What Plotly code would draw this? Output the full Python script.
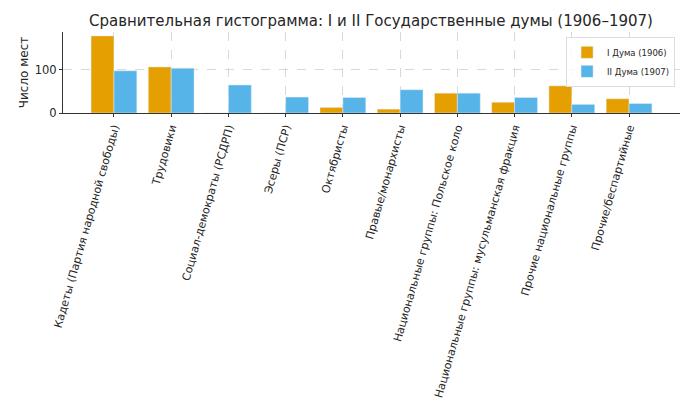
import plotly.graph_objects as go

# Parties / fractions
categories = [
    "Кадеты (Партия народной свободы)",
    "Трудовики",
    "Социал-демократы (РСДРП)",
    "Эсеры (ПСР)",
    "Октябристы",
    "Правые/монархисты",
    "Национальные группы: Польское коло",
    "Национальные группы: мусульманская фракция",
    "Прочие национальные группы",
    "Прочие/беспартийные",
]
duma1 = [179, 107, 0, 0, 13, 9, 46, 25, 63, 33]
duma2 = [98, 104, 65, 37, 36, 54, 46, 36, 20, 22]

fig = go.Figure()
fig.add_trace(go.Bar(x=categories, y=duma1, name="I Дума (1906)", marker_color="#E69F00"))
fig.add_trace(go.Bar(x=categories, y=duma2, name="II Дума (1907)", marker_color="#56B4E9"))

# page body has an 8px margin, so the figure is 8px smaller than the window
fig.update_layout(
    width=681, height=398,
    margin=dict(l=55, r=9, t=24, b=293, autoexpand=False),
    paper_bgcolor="white", plot_bgcolor="white",
    font=dict(family="DejaVu Sans", size=11, color="#262626"),
    title=dict(text="Сравнительная гистограмма: I и II Государственные думы (1906–1907)",
               x=0.533, xanchor="center", y=0.98, yanchor="top",
               font=dict(size=15, color="#262626")),
    barmode="group", bargap=0.2, bargroupgap=0,
    showlegend=True,
    legend=dict(x=0.992, y=0.94, xanchor="right", yanchor="top",
                bgcolor="rgba(255,255,255,0.8)", bordercolor="#dddddd", borderwidth=1,
                font=dict(size=8.5), itemwidth=30, tracegroupgap=0),
)
fig.update_xaxes(
    range=[-0.89, 9.89], tickangle=-74, showgrid=True, gridcolor="#d9d9d9",
    griddash="dash", gridwidth=1, showline=True, linecolor="#333333", linewidth=1,
    ticks="outside", ticklen=3, tickcolor="#333333", tickfont=dict(size=11),
    automargin=False,
)
fig.update_yaxes(
    range=[0, 188], tickvals=[0, 100], showgrid=True, gridcolor="#d9d9d9",
    griddash="dash", gridwidth=1, showline=True, linecolor="#333333", linewidth=1,
    ticks="outside", ticklen=3, tickcolor="#333333", zeroline=False,
    tickfont=dict(size=11.5),
    title=dict(text="Число мест", font=dict(size=12), standoff=3),
    automargin=False,
)

fig.write_html("out.html")
